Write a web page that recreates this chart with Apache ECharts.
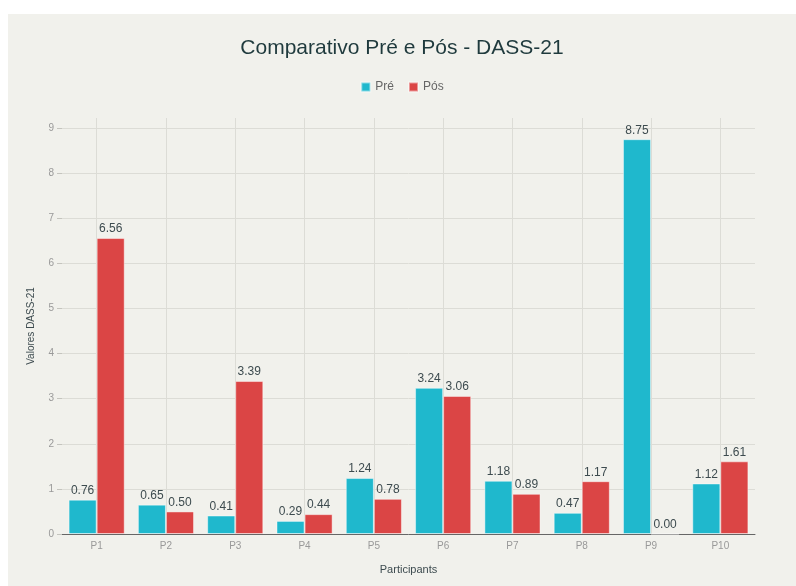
<!DOCTYPE html>
<html>
<head>
<meta charset="utf-8">
<script src="https://cdn.jsdelivr.net/npm/echarts@6/dist/echarts.min.js"></script>
<style>
    body { margin: 0; background: #ffffff; }
    #wrap { position: absolute; left: 8px; top: 14px; width: 788px; height: 572px; background: #f1f1ec; }
    #main { width: 788px; height: 572px; }
</style>
</head>
<body>
<div id="wrap"><div id="main"></div></div>
<script>
var participantes = ["P1", "P2", "P3", "P4", "P5", "P6", "P7", "P8", "P9", "P10"];
var valoresPre = [0.76, 0.65, 0.41, 0.29, 1.24, 3.24, 1.18, 0.47, 8.75, 1.12];
var valoresPos = [6.56, 0.50, 3.39, 0.44, 0.78, 3.06, 0.89, 1.17, 0.00, 1.61];

var corPre = "#1fb8cd";
var corPos = "#db4545";
var fonte = "Liberation Sans, Arial, sans-serif";

var chart = echarts.init(document.getElementById('main'));

var rotulo = {
    show: true,
    position: 'top',
    distance: 3,
    fontSize: 12,
    color: '#3d4b4f',
    fontFamily: fonte,
    formatter: function (p) { return p.value.toFixed(2); }
};

var option = {
    backgroundColor: 'transparent',
    title: {
        text: 'Comparativo Pré e Pós - DASS-21',
        left: 'center',
        top: 19,
        textStyle: { fontSize: 21, fontWeight: 'normal', color: '#1f3a3d', fontFamily: fonte }
    },
    legend: {
        data: ['Pré', 'Pós'],
        top: 62,
        left: 'center',
        icon: 'rect',
        itemWidth: 9,
        itemHeight: 9,
        itemGap: 14,
        textStyle: { fontSize: 12, color: '#666', fontFamily: fonte }
    },
    grid: { left: 54, right: 41, top: 104, bottom: 52 },
    xAxis: [
        {
            type: 'category',
            data: participantes,
            name: 'Participants',
            nameLocation: 'middle',
            nameGap: 30,
            nameTextStyle: { fontSize: 11, color: '#3d4b4f', fontFamily: fonte },
            axisLine: { lineStyle: { color: '#666', width: 1 } },
            axisTick: { show: false },
            splitLine: { show: false },
            axisLabel: { fontSize: 10, color: '#999', margin: 7, fontFamily: fonte }
        },
        {
            // eixo oculto so para as linhas verticais no centro de cada categoria
            type: 'value',
            position: 'top',
            min: 0,
            max: 20,
            interval: 1,
            axisLine: { show: false },
            axisTick: { show: false },
            axisLabel: { show: false },
            splitLine: { show: true, lineStyle: { color: ['rgba(0,0,0,0)', '#dcdcd6'], width: 1 } }
        }
    ],
    yAxis: {
        type: 'value',
        min: 0,
        max: 9.22,
        interval: 1,
        name: 'Valores DASS-21',
        nameLocation: 'middle',
        nameGap: 26,
        nameTextStyle: { fontSize: 10, color: '#3d4b4f', fontFamily: fonte },
        axisLine: { show: true, lineStyle: { color: 'rgba(0,0,0,0)' } },
        axisTick: { show: true, length: 5, lineStyle: { color: '#c4c4be' } },
        axisLabel: { fontSize: 10, color: '#999', margin: 8, showMaxLabel: false, fontFamily: fonte },
        splitLine: { show: true, showMaxLine: false, lineStyle: { color: '#dcdcd6', width: 1 } }
    },
    series: [
        {
            name: 'Pré',
            type: 'bar',
            data: valoresPre,
            barGap: '0%',
            barCategoryGap: '19%',
            itemStyle: { color: corPre, borderColor: 'rgba(255,255,255,0.45)', borderWidth: 1 },
            label: rotulo
        },
        {
            name: 'Pós',
            type: 'bar',
            data: valoresPos,
            barGap: '0%',
            barCategoryGap: '19%',
            itemStyle: { color: corPos, borderColor: 'rgba(255,255,255,0.45)', borderWidth: 1 },
            label: rotulo
        }
    ]
};

chart.setOption(option);
</script>
</body>
</html>
